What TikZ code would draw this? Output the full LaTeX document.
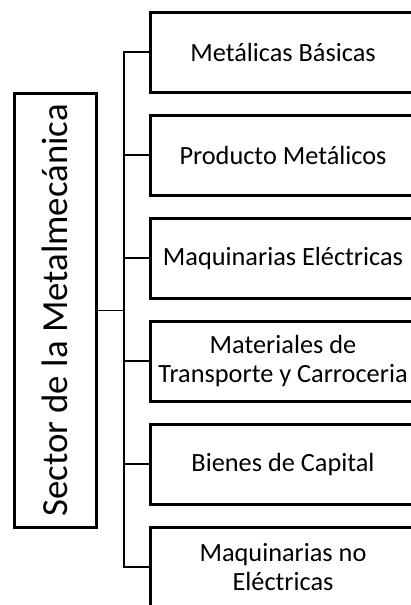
\documentclass[tikz,border=0pt]{standalone}
\usepackage{fontspec}
\setmainfont{Carlito}
\begin{document}
\begin{tikzpicture}[x=1pt,y=-1pt,
  catbox/.style={draw, line width=3pt, minimum width=266pt, minimum height=80pt, inner sep=0pt, align=center, font=\fontsize{26.3}{29}\selectfont},
  mainbox/.style={draw, line width=3pt, minimum width=434.2pt, minimum height=82.3pt, inner sep=0pt, rotate=90, font=\fontsize{36.8}{40}\selectfont},
  conn/.style={line width=1.8pt}]
\useasboundingbox (0,0) rectangle (411,605);
\clip (0,0) rectangle (411,605);
\node[mainbox] (main) at (55.2,310.4) {Sector de la Metalmecánica};
\node[catbox] (b1) at (283,52) {Metálicas Básicas};
\node[catbox] (b2) at (283,155) {Producto Metálicos};
\node[catbox] (b3) at (283,258) {Maquinarias Eléctricas};
\node[catbox] (b4) at (283,361) {Materiales de\\Transporte y Carroceria};
\node[catbox] (b5) at (283,464) {Bienes de Capital};
\node[catbox] (b6) at (283,567) {Maquinarias no\\Eléctricas};
\coordinate (s) at (124,0);
\draw[conn] (b1.west) -- (b1.west -| s) -- (b6.west -| s) -- (b6.west);
\foreach \b in {b2,b3,b4,b5} \draw[conn] (\b.west) -- (\b.west -| s);
\draw[conn] (main.south) -- (main.south -| s);
\end{tikzpicture}
\end{document}
